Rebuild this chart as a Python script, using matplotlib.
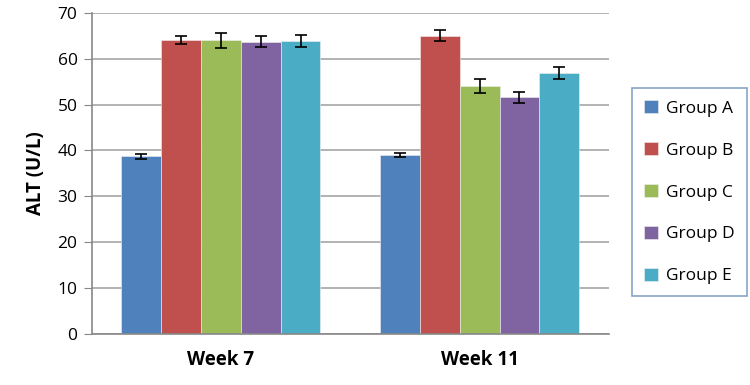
import matplotlib
matplotlib.use("Agg")
import matplotlib.pyplot as plt
import numpy as np

weeks = ["Week 7", "Week 11"]
groups = ["Group A", "Group B", "Group C", "Group D", "Group E"]
values = {
    "Group A": [38.7, 39.0],
    "Group B": [64.1, 65.0],
    "Group C": [64.0, 54.0],
    "Group D": [63.7, 51.6],
    "Group E": [63.9, 56.9],
}
errors = {
    "Group A": [0.5, 0.4],
    "Group B": [0.9, 1.2],
    "Group C": [1.6, 1.5],
    "Group D": [1.2, 1.2],
    "Group E": [1.3, 1.4],
}
colors = ["#4F81BD", "#C0504D", "#9BBB59", "#8064A2", "#4BACC6"]

plt.rcParams['font.family'] = ['Open Sans', 'DejaVu Sans']

fig = plt.figure(figsize=(7.5, 3.85), dpi=100)
ax = fig.add_axes([91.5/750, 1 - 333.5/385, (609 - 91.5)/750, (333.5 - 13)/385])

x = np.arange(len(weeks)) + 0.5
bw = 0.154
n = len(groups)
for i, g in enumerate(groups):
    pos = x + (i - (n - 1) / 2) * bw
    ax.bar(pos, values[g], width=bw, color=colors[i], label=g, zorder=2,
           edgecolor='#F0F0F0', linewidth=0.4)
    ax.errorbar(pos, values[g], yerr=errors[g], fmt='none', ecolor='black',
                elinewidth=1.2, capsize=4, capthick=1.2, zorder=3)

ax.set_xlim(0, 2)
ax.set_ylim(0, 70)
ax.set_yticks(np.arange(0, 71, 10))
ax.set_xticks(x)
ax.set_xticklabels(weeks, fontsize=13.5, fontweight='bold')
ax.tick_params(axis='x', length=0, pad=12)
ax.tick_params(axis='y', direction='out', length=6, color='#888888', labelsize=12.5, pad=4)
ax.yaxis.grid(True, color='#A6A6A6', linewidth=1.2, zorder=0)
ax.set_axisbelow(True)
for s in ['top', 'right']:
    ax.spines[s].set_visible(False)
for s in ['left', 'bottom']:
    ax.spines[s].set_color('#888888')
    ax.spines[s].set_linewidth(1.2)
ax.set_ylabel("ALT (U/L)", fontsize=13.5, fontweight='bold', labelpad=8)

leg = fig.legend(loc='upper left', bbox_to_anchor=(632/750, 1 - 88/385),
                 frameon=True, fancybox=False, fontsize=12.5,
                 handlelength=0.8, handleheight=0.8, handletextpad=0.45,
                 labelspacing=1.45, borderpad=0.7, borderaxespad=0)
leg.get_frame().set_edgecolor('#6A8DB8')
leg.get_frame().set_linewidth(1.2)

fig.savefig("out.png", dpi=100)
